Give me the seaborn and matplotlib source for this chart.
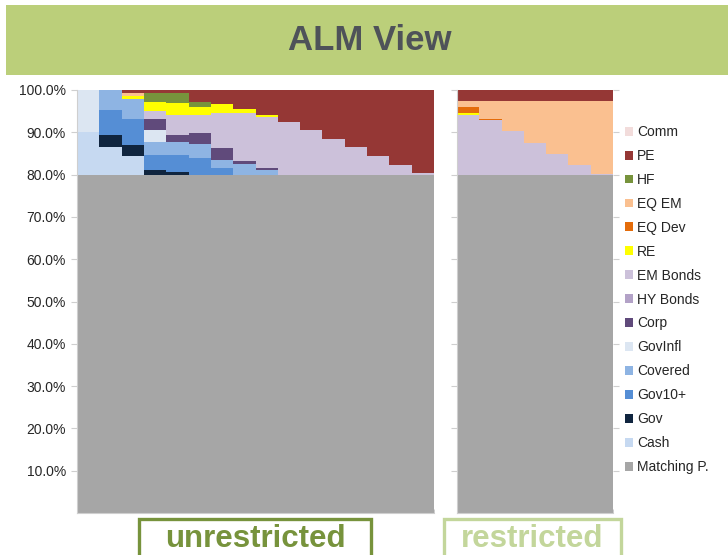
import matplotlib
matplotlib.use("Agg")
import matplotlib.pyplot as plt
from matplotlib.patches import Rectangle, Patch
import numpy as np
import pandas as pd
import seaborn as sns

# Asset classes, listed top of stack first (legend order)
assets = ["Comm", "PE", "HF", "EQ EM", "EQ Dev", "RE", "EM Bonds", "HY Bonds",
          "Corp", "GovInfl", "Covered", "Gov10+", "Gov", "Cash", "Matching P."]
asset_colors = ["#f2dcdb", "#953735", "#77933c", "#fac090", "#e46c0a", "#ffff00",
                "#ccc1da", "#b3a2c7", "#604a7b", "#dce6f2", "#8eb4e3", "#558ed5",
                "#10253f", "#c6d9f1", "#a6a6a6"]

# Unrestricted allocations (16 portfolios, % of total)
unr_comm     = [0, 0, 0, 0, 0, 0, 0, 0, 0, 0, 0, 0, 0, 0, 0, 0]
unr_pe       = [0, 0, 0.6, 0.6, 0.8, 2.8, 3.4, 4.5, 5.9, 7.6, 9.5, 11.5, 13.5, 15.6, 17.7, 19.6]
unr_hf       = [0, 0, 0, 2.2, 2.3, 1.2, 0, 0, 0, 0, 0, 0, 0, 0, 0, 0]
unr_eq_em    = [0, 0, 0.8, 0, 0, 0, 0, 0, 0, 0, 0, 0, 0, 0, 0, 0]
unr_eq_dev   = [0, 0, 0, 0, 0, 0, 0, 0, 0, 0, 0, 0, 0, 0, 0, 0]
unr_re       = [0, 0, 0.8, 2.2, 2.7, 1.8, 2.0, 0.9, 0.6, 0, 0, 0, 0, 0, 0, 0]
unr_em_bonds = [0, 0, 0, 1.8, 4.8, 4.4, 8.3, 11.4, 12.0, 12.4, 10.5, 8.5, 6.5, 4.4, 2.3, 0.4]
unr_hy_bonds = [0, 0, 0, 0, 0, 0, 0, 0, 0, 0, 0, 0, 0, 0, 0, 0]
unr_corp     = [0, 0, 0, 2.6, 1.6, 2.5, 2.8, 0.8, 0.5, 0, 0, 0, 0, 0, 0, 0]
unr_govinfl  = [10.0, 0, 0, 2.9, 0, 0, 0, 0, 0, 0, 0, 0, 0, 0, 0, 0]
unr_covered  = [0, 4.7, 4.7, 3.1, 3.2, 3.4, 1.9, 2.4, 1.0, 0, 0, 0, 0, 0, 0, 0]
unr_gov10    = [0, 6.0, 6.1, 3.4, 4.1, 3.9, 1.6, 0, 0, 0, 0, 0, 0, 0, 0, 0]
unr_gov      = [0, 2.7, 2.5, 1.2, 0.5, 0, 0, 0, 0, 0, 0, 0, 0, 0, 0, 0]
unr_cash     = [10.0, 6.6, 4.5, 0, 0, 0, 0, 0, 0, 0, 0, 0, 0, 0, 0, 0]
unr_matching = [80, 80, 80, 80, 80, 80, 80, 80, 80, 80, 80, 80, 80, 80, 80, 80]

# Restricted allocations (7 portfolios, % of total)
res_comm     = [0, 0, 0, 0, 0, 0, 0]
res_pe       = [2.5, 2.5, 2.5, 2.5, 2.5, 2.5, 2.5]
res_hf       = [0, 0, 0, 0, 0, 0, 0]
res_eq_em    = [1.6, 4.3, 7.3, 10.0, 12.7, 15.2, 17.3]
res_eq_dev   = [1.3, 0.3, 0, 0, 0, 0, 0]
res_re       = [0.5, 0, 0, 0, 0, 0, 0]
res_em_bonds = [14.1, 12.9, 10.2, 7.5, 4.8, 2.3, 0.2]
res_hy_bonds = [0, 0, 0, 0, 0, 0, 0]
res_corp     = [0, 0, 0, 0, 0, 0, 0]
res_govinfl  = [0, 0, 0, 0, 0, 0, 0]
res_covered  = [0, 0, 0, 0, 0, 0, 0]
res_gov10    = [0, 0, 0, 0, 0, 0, 0]
res_gov      = [0, 0, 0, 0, 0, 0, 0]
res_cash     = [0, 0, 0, 0, 0, 0, 0]
res_matching = [80, 80, 80, 80, 80, 80, 80]

y_ticks = [10, 20, 30, 40, 50, 60, 70, 80, 90, 100]
title_text = "ALM View"
panel_labels = ["unrestricted", "restricted"]

unrestricted = [unr_comm, unr_pe, unr_hf, unr_eq_em, unr_eq_dev, unr_re, unr_em_bonds,
                unr_hy_bonds, unr_corp, unr_govinfl, unr_covered, unr_gov10, unr_gov,
                unr_cash, unr_matching]
restricted = [res_comm, res_pe, res_hf, res_eq_em, res_eq_dev, res_re, res_em_bonds,
              res_hy_bonds, res_corp, res_govinfl, res_covered, res_gov10, res_gov,
              res_cash, res_matching]


def long_table(series_list):
    rows = []
    for name, vals in zip(assets, series_list):
        for i, v in enumerate(vals):
            rows.append({"portfolio": i + 1, "asset": name, "weight": v})
    return pd.DataFrame(rows)


df_unr = long_table(unrestricted)
df_res = long_table(restricted)

sns.set_theme(style="white")
plt.rcParams["font.family"] = ["Liberation Sans", "DejaVu Sans"]

W, H = 728, 555
fig = plt.figure(figsize=(W / 100, H / 100), dpi=100)


def fx(px):
    return px / W


def fy(py):
    return 1 - py / H


ax1 = fig.add_axes([fx(77), fy(513), fx(434 - 77), (513 - 90) / H])
ax2 = fig.add_axes([fx(457), fy(513), fx(613 - 457), (513 - 90) / H])

palette = dict(zip(assets, asset_colors))
for ax, df, n in [(ax1, df_unr, 16), (ax2, df_res, 7)]:
    sns.histplot(data=df, x="portfolio", weights="weight", hue="asset",
                 hue_order=assets, multiple="stack", discrete=True, shrink=1,
                 palette=palette, alpha=1, linewidth=0, legend=False, ax=ax)
    ax.set_xlim(0.5, n + 0.5)
    ax.set_ylim(0, 100)
    ax.set_xlabel("")
    ax.set_ylabel("")
    ax.set_xticks(np.arange(0.5, n + 1.5, 1.0))
    ax.set_xticklabels([])
    ax.set_yticks(y_ticks)
    for s in ["top", "right"]:
        ax.spines[s].set_visible(False)
    for s in ["left", "bottom"]:
        ax.spines[s].set_color("#cfcfcf")
        ax.spines[s].set_linewidth(0.8)
    ax.tick_params(axis="y", length=4, width=0.8, color="#cfcfcf",
                   direction="out", left=True)
    ax.tick_params(axis="x", length=3, width=0.6, color="#c4c4c4",
                   direction="in", bottom=True)

ax1.set_yticklabels([f"{v:.1f}%" for v in y_ticks], fontsize=10, color="#262626")
ax1.tick_params(axis="y", pad=4)
ax2.set_yticklabels([])
ax2.tick_params(axis="y", right=True)

# Title banner
fig.patches.append(Rectangle((fx(6), fy(75)), 1.0, (75 - 5) / H, transform=fig.transFigure,
                             facecolor="#bbcf7a", edgecolor="none", zorder=0))
fig.text(fx(370), fy(41), title_text, ha="center", va="center", fontsize=25,
         fontweight="bold", color="#4e5259")

# Legend
handles = [Patch(facecolor=c, edgecolor="none", label=a) for a, c in zip(assets, asset_colors)]
fig.legend(handles=handles, loc="upper left", bbox_to_anchor=(fx(619), fy(119.5)),
           frameon=False, fontsize=10, handlelength=0.6, handleheight=0.6,
           handletextpad=0.3, labelspacing=0.715, borderaxespad=0)

# Panel captions in outlined boxes
for label, x0, x1, col in [(panel_labels[0], 139, 371, "#77933c"),
                           (panel_labels[1], 444, 621, "#c3d69b")]:
    fig.patches.append(Rectangle((fx(x0), fy(570)), fx(x1 - x0), (570 - 519) / H,
                                 transform=fig.transFigure, facecolor="white",
                                 edgecolor=col, linewidth=2.4, zorder=1))
    fig.text(fx((x0 + x1) / 2), fy(539), label, ha="center", va="center",
             fontsize=22.5, fontweight="bold", color=col)

fig.savefig("out.png", dpi=100)
